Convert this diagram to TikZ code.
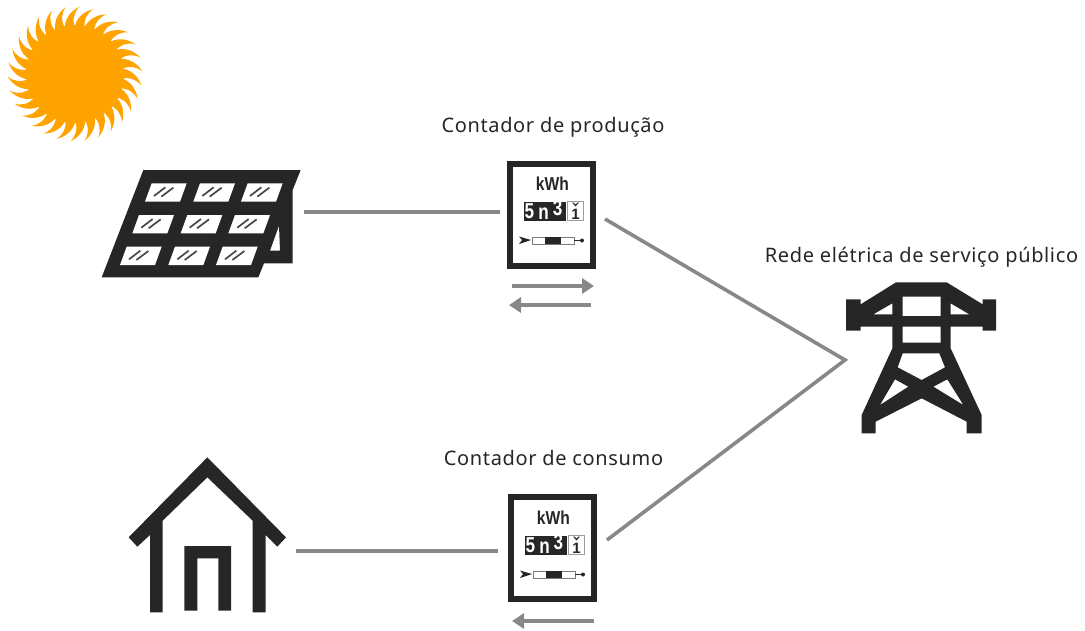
\documentclass[tikz,border=0pt]{standalone}
\usepackage{fontspec}
\setmainfont{Noto Sans}[LetterSpace=3.2]
\newfontfamily\meterfont{Liberation Sans}
\definecolor{ink}{HTML}{262626}
\definecolor{wire}{HTML}{888888}
\definecolor{sunc}{HTML}{FFA300}
\usetikzlibrary{arrows.meta}
\tikzset{
  lbl/.style={font=\fontsize{20pt}{23pt}\selectfont,text=ink,inner sep=0pt,anchor=center},
  wireline/.style={draw=wire,line width=3.6pt},
  flow/.style={draw=wire,line width=4.6pt,-{Triangle[length=12pt,width=15pt]}},
  meterbox/.style={draw=ink,line width=6pt,fill=white,minimum width=83pt,minimum height=102pt,inner sep=0pt},
  kwh/.style={font=\meterfont\bfseries\fontsize{17pt}{18pt}\selectfont,text=ink,inner sep=0pt,transform shape,xscale=.92,yscale=1.1},
  digitw/.style={font=\meterfont\bfseries\fontsize{18pt}{18pt}\selectfont,text=white,inner sep=0pt,transform shape,xscale=.95,yscale=1.2},
  digitd/.style={font=\meterfont\bfseries\fontsize{15pt}{16pt}\selectfont,text=ink,inner sep=0pt}
}
\newcommand{\meterinside}[1]{%
  \node[kwh] (#1k) at (552.5,184) {kWh};
  \fill[ink] (523.5,201.5) rectangle (566,220.5);
  \draw[ink!45,line width=1pt,fill=white] (567.5,201.5) rectangle (583,220.5);
  \node[digitw] (#1a) at (529.5,211.5) {5};
  \node[digitw] (#1b) at (543.5,213.5) {n};
  \node[digitw] (#1c) at (557.5,208) {3};
  \node[digitd] (#1d) at (575.5,214.5) {1};
  \fill[ink] (572,202.5) -- (575.5,206.5) -- (579,202.5) -- (577.5,202.5) -- (575.5,204.5) -- (573.5,202.5) -- cycle;
  \fill[ink] (519,236.5) -- (531,240) -- (519,244) -- (522,240) -- cycle;
  \draw[ink!60,line width=1pt,fill=white] (532,237) rectangle (574,244);
  \fill[ink] (545,236.5) rectangle (560.5,243.5);
  \draw[ink,line width=1.2pt] (574,240.5) -- (580,240.5);
  \fill[ink] (582,240.5) circle (2pt);
}
\begin{document}
\begin{tikzpicture}[x=1pt,y=-1pt]
\useasboundingbox (0,0) rectangle (1085,630);
% sun
\fill[sunc] (75,74) circle (49pt);
\foreach \i in {0,...,29}{
  \pgfmathsetmacro{\a}{\i*12}
  \fill[sunc] ([shift={(\a-6:46pt)}]75,74)
    .. controls ([shift={(\a-3:55pt)}]75,74) and ([shift={(\a-5:62pt)}]75,74) .. ([shift={(\a-10:67.5pt)}]75,74)
    .. controls ([shift={(\a-1:63pt)}]75,74) and ([shift={(\a+5:55pt)}]75,74) .. ([shift={(\a+7:46pt)}]75,74) -- cycle;
}
% solar panel
\begin{scope}[shift={(90,160)},scale=1/3]
\fill[ink,even odd rule] (160,30) -- (632,30) -- (608,90) -- (608,310) -- (522,310) -- (505,352) -- (35,352) -- cycle
  (567,197) -- (570,272) -- (540,272) -- cycle;
\foreach \x/\y in {0/0,145/0,288/0,-38/95,107/95,250/95,-75/190,70/190,213/190}{
  \begin{scope}[shift={(\x,\y)}]
  \fill[white] (185,70) -- (290,70) -- (270,125) -- (165,125) -- cycle;
  \draw[ink!85,line width=1.7pt] (192,108) -- (226,82) (214,110) -- (250,83);
  \end{scope}
}
\end{scope}
% tower
\begin{scope}[shift={(830,270)},scale=1/3]
\fill[ink,even odd rule] (48,88) -- (92,88) -- (92,103) -- (198,37) -- (350,37) -- (458,103) -- (458,88) -- (498,88) -- (498,182) -- (458,182) -- (458,170) -- (362,170) -- (362,235) -- (455,435) -- (455,490) -- (410,490) -- (410,455) -- (275,385) -- (137,455) -- (137,490) -- (95,490) -- (95,435) -- (187,235) -- (187,170) -- (92,170) -- (92,182) -- (48,182) -- cycle
 (218,80) -- (332,80) -- (332,138) -- (218,138) -- cycle
 (218,170) -- (332,170) -- (332,218) -- (218,218) -- cycle
 (130,133) -- (187,100) -- (187,133) -- cycle
 (362,100) -- (418,133) -- (362,133) -- cycle
 (218,250) -- (328,250) -- (345,292) -- (275,330) -- (203,292) -- cycle
 (195,328) -- (235,350) -- (150,405) -- cycle
 (352,328) -- (400,405) -- (310,350) -- cycle;
\end{scope}
% house
\begin{scope}[shift={(120,450)},scale=1/3]
\fill[ink] (262,22) -- (498,262) -- (472,290) -- (437,255) -- (437,487) -- (398,487) -- (398,212) -- (262,82) -- (128,212) -- (128,487) -- (90,487) -- (90,255) -- (52,290) -- (26,262) -- cycle;
\fill[ink] (193,288) -- (333,288) -- (333,482) -- (295,482) -- (295,325) -- (232,325) -- (232,482) -- (193,482) -- cycle;
\end{scope}
% meters
\node[meterbox] (meterA) at (551.5,214.5) {};
\meterinside{a}
\node[meterbox] (meterB) at (552.5,547.5) {};
\begin{scope}[shift={(1,334)}]
\meterinside{b}
\end{scope}
% connector ends
\coordinate (panelEnd) at (304,212);
\coordinate (meterAl) at (500,212);
\coordinate (meterAr) at (605,219);
\coordinate (towerEnd) at (845,360);
\coordinate (meterBr) at (607,540);
\coordinate (houseEnd) at (296,551);
\coordinate (meterBl) at (498,551);
\draw[wireline] (panelEnd) -- (meterAl);
\draw[wireline] (houseEnd) -- (meterBl);
\draw[wireline,miter limit=10] (meterAr) -- (towerEnd) -- (meterBr);
% flow arrows
\coordinate (fa1) at (512,286); \coordinate (fa2) at (594,286);
\coordinate (fb1) at (591,305); \coordinate (fb2) at (509,305);
\coordinate (fc1) at (594,621); \coordinate (fc2) at (512,621);
\draw[flow] (fa1) -- (fa2);
\draw[flow] (fb1) -- (fb2);
\draw[flow] (fc1) -- (fc2);
% labels
\node[lbl] (lprod) at (553,127) {Contador de produção};
\node[lbl] (lcons) at (553.5,458) {Contador de consumo};
\node[lbl] (lrede) at (921.5,257) {Rede elétrica de serviço público};
\end{tikzpicture}
\end{document}
